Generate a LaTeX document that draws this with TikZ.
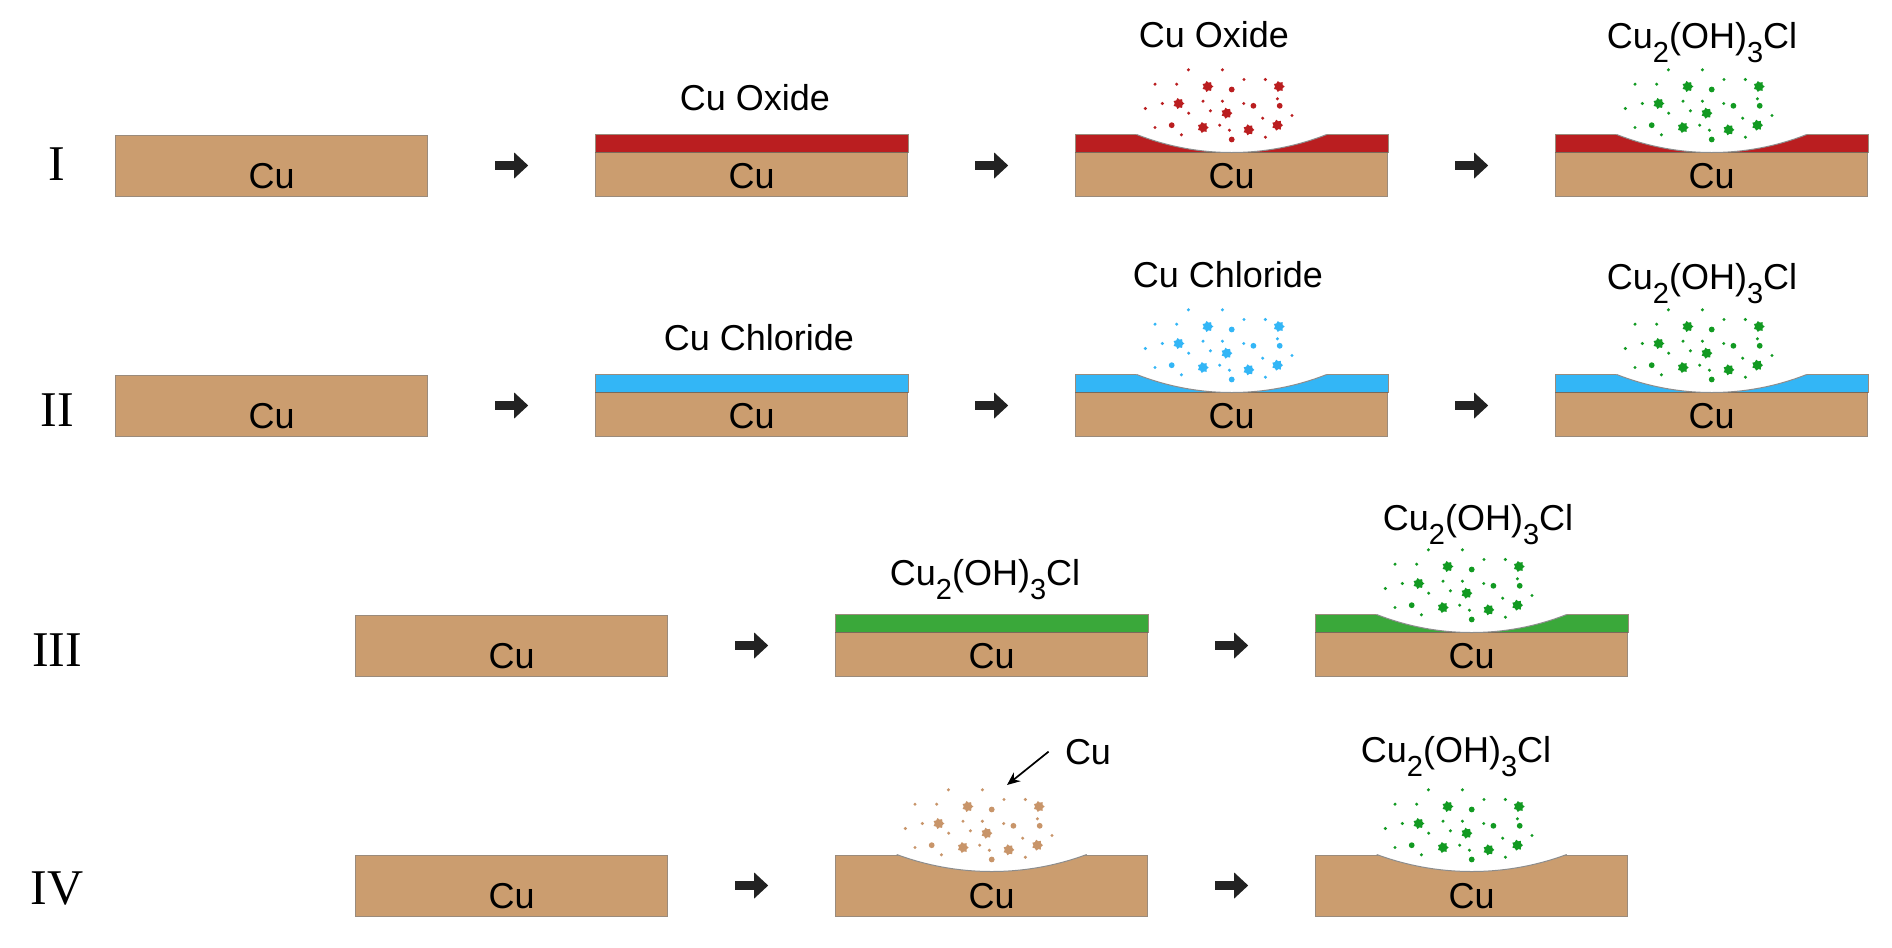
\documentclass[tikz,border=0pt]{standalone}
\usepackage{fontspec}
\setmainfont{Liberation Sans}
\newfontfamily\numfont{Liberation Serif}
\usetikzlibrary{arrows.meta, calc}

\definecolor{copper}{HTML}{CB9D6F}
\definecolor{oxidered}{HTML}{BA1E20}
\definecolor{chloblue}{HTML}{33B6F6}
\definecolor{atagreen}{HTML}{3AA83A}
\definecolor{dotgreen}{HTML}{129A22}
\definecolor{dotcopper}{HTML}{C8956A}
\definecolor{edgegrey}{HTML}{9A8B7C}
\definecolor{seamgrey}{HTML}{7A6A5A}
\definecolor{arrowgrey}{HTML}{222222}

\tikzstyle{cublock} = [rectangle, fill=copper, draw=edgegrey, line width=0.5pt, minimum width=156pt, minimum height=30.5pt, inner sep=0pt, text height=23.1pt, text depth=0pt, font=\fontsize{18}{20}\selectfont]
\tikzstyle{lbl} = [inner sep=0pt, anchor=base, font=\fontsize{18}{20}\selectfont]
\tikzstyle{roman} = [inner sep=0pt, font=\numfont\fontsize{25}{28}\selectfont]
\tikzstyle{flow} = [draw=arrowgrey, line width=4.5pt, -{Triangle[width=13pt,length=7pt,line width=0pt]}, shorten <=33.5pt, shorten >=33.5pt]
\tikzstyle{seam} = [draw=seamgrey, line width=0.5pt]
\tikzstyle{pitline} = [draw=black!45, line width=0.5pt]
\tikzstyle{pointer} = [draw=black, line width=0.85pt, -{Stealth[length=6.5pt,width=5.5pt]}]

\newcommand{\lowsub}[1]{\raisebox{-0.39em}{\fontsize{14.5}{16}\selectfont #1}}
\newcommand{\atacamite}{Cu\lowsub{2}(OH)\lowsub{3}Cl}

% layer on top of a block
\newcommand{\coat}[2]{%
  \filldraw[fill=#2, draw=edgegrey, line width=0.5pt] (#1.north west) rectangle ($(#1.north east)+(0,18)$);
  \draw[seam] ($(#1.north west)+(0,18)$) -- ($(#1.north east)+(0,18)$);
}
% dent left by corrosion
\newcommand{\pit}[2]{%
  \fill[white] ($(#1.north)+(-95,-1.5)$) -- ($(#1.north)+(-95,0)$)
    .. controls ($(#1.north)+(-64.7,0.66*#2)$) and ($(#1.north)+(-32.6,#2)$) .. ($(#1.north)+(0,#2)$)
    .. controls ($(#1.north)+(32.6,#2)$) and ($(#1.north)+(64.7,0.66*#2)$) .. ($(#1.north)+(95,0)$)
    -- ($(#1.north)+(95,-1.5)$) -- cycle;
  \draw[pitline] ($(#1.north)+(-95,0)$)
    .. controls ($(#1.north)+(-64.7,0.66*#2)$) and ($(#1.north)+(-32.6,#2)$) .. ($(#1.north)+(0,#2)$)
    .. controls ($(#1.north)+(32.6,#2)$) and ($(#1.north)+(64.7,0.66*#2)$) .. ($(#1.north)+(95,0)$);
}
% particles above the dent
\newcommand{\debris}[2]{%
  \begin{scope}[shift={(#1.north)}]
    \foreach \px/\py in {-43.3/-64.7, -9.3/-64.7, -76.7/-50.3, -55/-50.3, 12.3/-55, 33.7/-55, -69.3/-31, -28.7/-33.3, -9.3/-33.3, 12/-31, 45.7/-35.7, -86.3/-26, -43/-21.3, -21.3/-23.7, 31/-16.3, 60.3/-19, -76.7/-7, -50.3/0.3, -12/-9.3, -2.3/-4.3, 33.7/2.7}
      \fill[#2] (\px,\py) circle (0.85pt);
    \foreach \px/\py in {0/-45, 21.7/-28.7, 48/-28.7, -60/-9.3, 0/5}
      \fill[#2] (\px,\py) circle (1.45pt);
    \foreach \px/\py in {-24/-48, 47.3/-48, -53/-31, -5/-21.3, -28.7/-7, 17/-4.7, 45.7/-9.3}
      \fill[#2] (\px,\py) +(0:5.6) \foreach \k in {0,...,6}{ -- +({\k*51.43+25.71}:4) -- +({(\k+1)*51.43}:5.6)} -- cycle;
  \end{scope}
}

\begin{document}
\begin{tikzpicture}[x=0.5pt, y=-0.5pt]
				\useasboundingbox (0,0) rectangle (1892,948);

				% row I
				\node [roman] (n1) at (57,164.5) {I};
				\node [cublock] (a1) at (271.7,165.5) {Cu};
				\node [cublock] (a2) at (751.7,165.5) {Cu};
				\node [cublock] (a3) at (1231.7,165.5) {Cu};
				\node [cublock] (a4) at (1711.7,165.5) {Cu};
				\coat{a2}{oxidered}
				\coat{a3}{oxidered}
				\pit{a3}{18}
				\debris{a3}{oxidered}
				\coat{a4}{oxidered}
				\pit{a4}{18}
				\debris{a4}{dotgreen}
				\node [lbl] (a2l) at (755,110) {Cu Oxide};
				\node [lbl] (a3l) at (1214,47) {Cu Oxide};
				\node [lbl] (a4l) at (1702,48) {\atacamite};
				\path [flow] (a1.east) -- (a2.west);
				\path [flow] (a2.east) -- (a3.west);
				\path [flow] (a3.east) -- (a4.west);

				% row II
				\node [roman] (n2) at (57,410) {II};
				\node [cublock] (b1) at (271.7,405.5) {Cu};
				\node [cublock] (b2) at (751.7,405.5) {Cu};
				\node [cublock] (b3) at (1231.7,405.5) {Cu};
				\node [cublock] (b4) at (1711.7,405.5) {Cu};
				\coat{b2}{chloblue}
				\coat{b3}{chloblue}
				\pit{b3}{18}
				\debris{b3}{chloblue}
				\coat{b4}{chloblue}
				\pit{b4}{18}
				\debris{b4}{dotgreen}
				\node [lbl] (b2l) at (759,350) {Cu Chloride};
				\node [lbl] (b3l) at (1228,287) {Cu Chloride};
				\node [lbl] (b4l) at (1702,289) {\atacamite};
				\path [flow] (b1.east) -- (b2.west);
				\path [flow] (b2.east) -- (b3.west);
				\path [flow] (b3.east) -- (b4.west);

				% row III
				\node [roman] (n3) at (57,650) {III};
				\node [cublock] (c1) at (511.7,645.5) {Cu};
				\node [cublock] (c2) at (991.7,645.5) {Cu};
				\node [cublock] (c3) at (1471.7,645.5) {Cu};
				\coat{c2}{atagreen}
				\coat{c3}{atagreen}
				\pit{c3}{18}
				\debris{c3}{dotgreen}
				\node [lbl] (c2l) at (985,585) {\atacamite};
				\node [lbl] (c3l) at (1478,530) {\atacamite};
				\path [flow] (c1.east) -- (c2.west);
				\path [flow] (c2.east) -- (c3.west);

				% row IV
				\node [roman] (n4) at (57,888) {IV};
				\node [cublock] (d1) at (511.7,885.5) {Cu};
				\node [cublock] (d2) at (991.7,885.5) {Cu};
				\node [cublock] (d3) at (1471.7,885.5) {Cu};
				\pit{d2}{17}
				\debris{d2}{dotcopper}
				\pit{d3}{17}
				\debris{d3}{dotgreen}
				\node [lbl] (d2l) at (1088,764) {Cu};
				\coordinate (d2tip) at (1007,785);
				\node [lbl] (d3l) at (1456,762) {\atacamite};
				\path [pointer] ([xshift=-8pt]d2l.west) -- (d2tip);
				\path [flow] (d1.east) -- (d2.west);
				\path [flow] (d2.east) -- (d3.west);
\end{tikzpicture}
\end{document}
